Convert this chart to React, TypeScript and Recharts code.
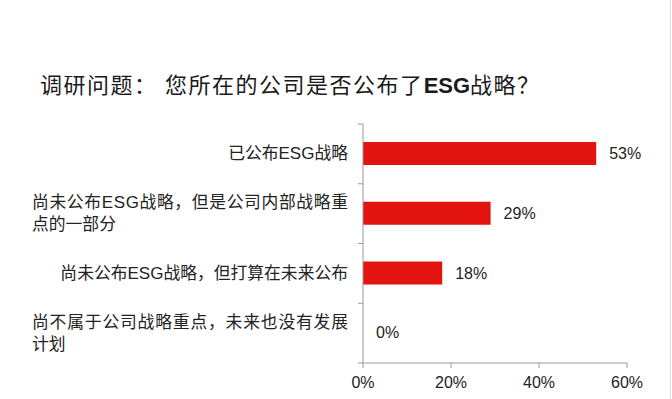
import { Bar, BarChart, LabelList, XAxis, YAxis } from 'recharts';

const CATEGORIES = [
  ['已公布ESG战略'],
  ['尚未公布ESG战略，但是公司内部战略重', '点的一部分'],
  ['尚未公布ESG战略，但打算在未来公布'],
  ['尚不属于公司战略重点，未来也没有发展', '计划'],
];
const VALUES = [53, 29, 18, 0];
const X_TICKS = [0, 20, 40, 60];

const FONT = '"Liberation Sans", Arial, "Noto Sans CJK SC", sans-serif';
const TEXT = '#222';
const AXIS = '#999';
const RED = '#e3130f';

const W = 672;
const H = 399;
const X_AXIS_H = 30;
const MARGIN = { top: 124, right: 45, bottom: 6, left: 0 };
const Y_AXIS_W = 363;
const BAND = (H - MARGIN.top - MARGIN.bottom - X_AXIS_H) / CATEGORIES.length;
const WRAP_W = 316;

const data = CATEGORIES.map((_, i) => ({ name: String(i), value: VALUES[i] }));

// latin runs are set a size larger so they match the CJK glyphs
const runs = (s: string) =>
  s.split(/([A-Za-z0-9%]+)/).filter(Boolean).map((t, i) => (
    <tspan key={i} fontSize={/^[A-Za-z0-9%]+$/.test(t) ? 17 : 16.8}>
      {t}
    </tspan>
  ));

const CategoryTick = (props: any) => {
  const { x, y, payload, index } = props;
  const lines = CATEGORIES[Number(payload.value)];
  const lh = 22;
  const startY = y - ((lines.length - 1) * lh) / 2;
  const wrapped = lines.length > 1;
  return (
    <g>
      {index === 0 && <line x1={x + 3} x2={x + 8} y1={y - BAND / 2} y2={y - BAND / 2} stroke={AXIS} />}
      <line x1={x + 3} x2={x + 8} y1={y + BAND / 2} y2={y + BAND / 2} stroke={AXIS} />
      {lines.map((l, i) => (
        <text
          key={i}
          x={wrapped ? x - 7 - WRAP_W : x - 7}
          y={startY + i * lh}
          dy="0.35em"
          textAnchor={wrapped ? 'start' : 'end'}
          textLength={wrapped && i === 0 ? WRAP_W : undefined}
          lengthAdjust="spacing"
          fontSize={16}
          fill={TEXT}
          fontFamily={FONT}
        >
          {runs(l)}
        </text>
      ))}
    </g>
  );
};

const App = () => {
  return (
    <div style={{ position: 'absolute', left: 0, top: 0, width: W, height: H, background: '#fff' }}>
      <div
        style={{
          position: 'absolute',
          left: 40,
          top: 67,
          fontSize: 22,
          letterSpacing: 1.5,
          fontFamily: FONT,
          color: '#1a1a1a',
          whiteSpace: 'nowrap',
        }}
      >
        调研问题： 您所在的公司是否公布了<b style={{ letterSpacing: 0 }}>ESG</b>战略？
      </div>
      <div style={{ position: 'absolute', right: 1, top: 0, width: 1, height: H, background: '#ddd' }} />
      <BarChart width={W} height={H} data={data} layout="vertical" margin={MARGIN}>
        <XAxis
          type="number"
          domain={[0, 60]}
          ticks={X_TICKS}
          height={X_AXIS_H}
          tickFormatter={(v: number) => `${v}%`}
          stroke={AXIS}
          tickSize={5}
          tick={{ fontSize: 16, fill: TEXT, fontFamily: FONT }}
          tickMargin={9}
        />
        <YAxis
          type="category"
          dataKey="name"
          width={Y_AXIS_W}
          stroke={AXIS}
          tickLine={false}
          tick={<CategoryTick />}
          interval={0}
        />
        <Bar
          dataKey="value"
          fill={RED}
          barSize={23}
          minPointSize={(v: number) => (v === 0 ? 0.01 : 0)}
          isAnimationActive={false}
        >
          <LabelList
            dataKey="value"
            position="right"
            offset={13}
            formatter={(v: any) => `${v}%`}
            style={{ fontSize: 16, fill: TEXT, fontFamily: FONT }}
          />
        </Bar>
      </BarChart>
    </div>
  );
};

export default App;
